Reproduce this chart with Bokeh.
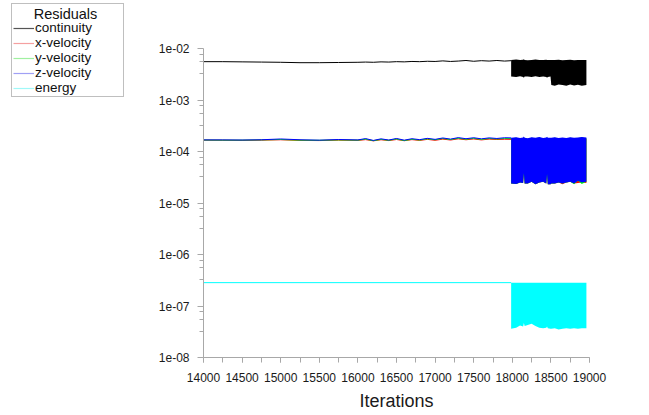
from bokeh.plotting import figure
from bokeh.layouts import row
from bokeh.models import (Range1d, FixedTicker, SingleIntervalTicker, CustomJSTickFormatter,
                          Legend, LegendItem, Label)
from bokeh.embed import file_html
from bokeh.resources import INLINE

# ---------------- data ----------------
steady_iter = [14000, 14250, 14500, 14750, 15000, 15250, 15500, 15750, 16000, 16100,
               16200, 16300, 16400, 16500, 16600, 16700, 16800, 16900, 17000, 17100,
               17200, 17300, 17400, 17500, 17600, 17700, 17800, 17900, 17985]
continuity = [5.55e-3, 5.55e-3, 5.5e-3, 5.45e-3, 5.4e-3, 5.3e-3, 5.3e-3, 5.35e-3, 5.4e-3, 5.45e-3,
              5.4e-3, 5.5e-3, 5.45e-3, 5.55e-3, 5.5e-3, 5.6e-3, 5.55e-3, 5.65e-3, 5.6e-3, 5.75e-3,
              5.6e-3, 5.7e-3, 5.85e-3, 5.65e-3, 5.8e-3, 5.7e-3, 5.85e-3, 5.7e-3, 5.8e-3]
x_velocity = [1.66e-4, 1.65e-4, 1.64e-4, 1.66e-4, 1.69e-4, 1.64e-4, 1.63e-4, 1.66e-4, 1.64e-4, 1.7e-4,
              1.61e-4, 1.69e-4, 1.63e-4, 1.71e-4, 1.62e-4, 1.7e-4, 1.64e-4, 1.72e-4, 1.65e-4, 1.74e-4,
              1.67e-4, 1.76e-4, 1.69e-4, 1.75e-4, 1.68e-4, 1.74e-4, 1.71e-4, 1.73e-4, 1.72e-4]
y_velocity = [1.67e-4, 1.66e-4, 1.66e-4, 1.68e-4, 1.71e-4, 1.66e-4, 1.65e-4, 1.68e-4, 1.66e-4, 1.74e-4,
              1.62e-4, 1.72e-4, 1.65e-4, 1.75e-4, 1.63e-4, 1.73e-4, 1.67e-4, 1.76e-4, 1.69e-4, 1.79e-4,
              1.71e-4, 1.81e-4, 1.73e-4, 1.8e-4, 1.72e-4, 1.79e-4, 1.75e-4, 1.79e-4, 1.78e-4]
z_velocity = [1.68e-4, 1.68e-4, 1.67e-4, 1.69e-4, 1.75e-4, 1.69e-4, 1.66e-4, 1.71e-4, 1.68e-4, 1.78e-4,
              1.64e-4, 1.76e-4, 1.67e-4, 1.79e-4, 1.66e-4, 1.77e-4, 1.7e-4, 1.8e-4, 1.72e-4, 1.83e-4,
              1.74e-4, 1.86e-4, 1.77e-4, 1.85e-4, 1.76e-4, 1.84e-4, 1.79e-4, 1.85e-4, 1.84e-4]
energy_iter = [14000, 17985]
energy = [2.84e-7, 2.84e-7]

# oscillating part: upper / lower envelopes of each residual
band_iter = [17985, 18050, 18100, 18140, 18150, 18160, 18200, 18250, 18300, 18350, 18400, 18440,
             18450, 18460, 18495, 18505, 18550, 18600, 18650, 18700, 18750, 18800, 18850, 18900, 18960]
cont_hi = [6.0e-3, 6.1e-3, 5.95e-3, 6.05e-3, 6.15e-3, 6.0e-3, 5.9e-3, 6.0e-3, 6.1e-3, 5.95e-3, 6.0e-3, 6.05e-3,
           5.95e-3, 6.0e-3, 6.0e-3, 6.0e-3, 5.95e-3, 6.05e-3, 5.9e-3, 6.0e-3, 6.05e-3, 5.9e-3, 6.0e-3, 5.95e-3, 6.0e-3]
cont_lo = [2.85e-3, 2.8e-3, 2.9e-3, 2.8e-3, 2.7e-3, 2.85e-3, 2.85e-3, 2.8e-3, 2.9e-3, 2.8e-3, 2.85e-3, 2.8e-3,
           2.7e-3, 2.8e-3, 2.85e-3, 1.95e-3, 1.9e-3, 2.0e-3, 1.95e-3, 1.9e-3, 2.0e-3, 1.92e-3, 1.97e-3, 1.9e-3, 1.95e-3]
xvel_hi = [1.76e-4, 1.8e-4, 1.74e-4, 1.77e-4, 1.85e-4, 1.76e-4, 1.72e-4, 1.8e-4, 1.76e-4, 1.82e-4, 1.74e-4, 1.77e-4,
           1.83e-4, 1.76e-4, 1.76e-4, 1.76e-4, 1.8e-4, 1.74e-4, 1.78e-4, 1.74e-4, 1.8e-4, 1.76e-4, 1.78e-4, 1.82e-4, 1.77e-4]
xvel_lo = [2.4e-5, 2.35e-5, 2.5e-5, 2.45e-5, 3.8e-5, 2.4e-5, 2.4e-5, 2.6e-5, 2.3e-5, 2.5e-5, 2.6e-5, 2.4e-5,
           3.6e-5, 2.3e-5, 2.3e-5, 2.4e-5, 2.4e-5, 2.5e-5, 2.3e-5, 2.5e-5, 2.6e-5, 2.4e-5, 2.45e-5, 2.5e-5, 2.45e-5]
yvel_hi = [1.8e-4, 1.84e-4, 1.78e-4, 1.81e-4, 1.9e-4, 1.8e-4, 1.76e-4, 1.84e-4, 1.8e-4, 1.86e-4, 1.78e-4, 1.81e-4,
           1.88e-4, 1.8e-4, 1.8e-4, 1.8e-4, 1.84e-4, 1.78e-4, 1.82e-4, 1.78e-4, 1.84e-4, 1.8e-4, 1.82e-4, 1.86e-4, 1.81e-4]
yvel_lo = [2.4e-5, 2.35e-5, 2.5e-5, 2.45e-5, 3.8e-5, 2.4e-5, 2.4e-5, 2.6e-5, 2.3e-5, 2.5e-5, 2.6e-5, 2.4e-5,
           3.6e-5, 2.3e-5, 2.3e-5, 2.4e-5, 2.4e-5, 2.5e-5, 2.4e-5, 2.5e-5, 2.6e-5, 2.3e-5, 2.7e-5, 2.35e-5, 2.6e-5]
zvel_hi = [1.85e-4, 1.9e-4, 1.82e-4, 1.86e-4, 1.95e-4, 1.85e-4, 1.8e-4, 1.9e-4, 1.85e-4, 1.92e-4, 1.82e-4, 1.86e-4,
           1.93e-4, 1.85e-4, 1.85e-4, 1.85e-4, 1.9e-4, 1.83e-4, 1.88e-4, 1.82e-4, 1.9e-4, 1.85e-4, 1.88e-4, 1.92e-4, 1.86e-4]
zvel_lo = [2.4e-5, 2.35e-5, 2.5e-5, 2.45e-5, 3.8e-5, 2.4e-5, 2.4e-5, 2.6e-5, 2.3e-5, 2.5e-5, 2.6e-5, 2.4e-5,
           3.6e-5, 2.3e-5, 2.3e-5, 2.4e-5, 2.4e-5, 2.5e-5, 2.4e-5, 2.5e-5, 2.6e-5, 2.4e-5, 2.7e-5, 2.5e-5, 2.6e-5]
energy_hi = [2.84e-7, 2.84e-7, 2.84e-7, 2.84e-7, 2.84e-7, 2.84e-7, 2.84e-7, 2.84e-7, 2.84e-7, 2.84e-7,
             2.84e-7, 2.84e-7, 2.84e-7, 2.84e-7, 2.84e-7, 2.84e-7, 2.84e-7, 2.84e-7, 2.84e-7, 2.84e-7,
             2.84e-7, 2.84e-7, 2.84e-7, 2.84e-7, 2.84e-7]
energy_lo = [3.6e-8, 3.8e-8, 4.2e-8, 4.0e-8, 4.7e-8, 4.1e-8, 4.3e-8, 4.5e-8, 4.1e-8, 3.8e-8, 3.7e-8, 3.8e-8,
             4.0e-8, 3.7e-8, 3.6e-8, 3.6e-8, 3.7e-8, 3.5e-8, 3.6e-8, 3.7e-8, 3.6e-8, 3.7e-8, 3.6e-8, 3.7e-8, 3.7e-8]

legend_title = "Residuals"
series_names = ["continuity", "x-velocity", "y-velocity", "z-velocity", "energy"]
y_ticks = [1e-8, 1e-7, 1e-6, 1e-5, 1e-4, 1e-3, 1e-2]

# ---------------- styles ----------------
FONT = "Liberation Sans"
colors = ["#000000", "#ff0000", "#00ff00", "#0000ff", "#00ffff"]
legend_colors = ["#555555", "#f5a0a0", "#a0f0a0", "#a0a0f5", "#a0f8f8"]
AXIS_GREY = "#a8a8a8"
TOTAL_W, TOTAL_H = 649, 415
LEG_W = 130

# ---------------- main plot ----------------
BL, BR, BT = 73, 60, 48
FRAME_W, FRAME_H = 386, 309
BB = TOTAL_H - BT - FRAME_H

p = figure(width=TOTAL_W - LEG_W, height=TOTAL_H, y_axis_type="log",
           x_range=Range1d(14000, 19000), y_range=Range1d(1e-8, 1e-2),
           output_backend="svg", toolbar_location=None,
           min_border_left=BL, min_border_right=BR, min_border_top=BT, min_border_bottom=BB)
p.frame_align = False
p.outline_line_color = None
p.xgrid.visible = False
p.ygrid.visible = False
p.background_fill_color = "white"
p.border_fill_color = "white"

lines = [(continuity, cont_lo, cont_hi), (x_velocity, xvel_lo, xvel_hi),
         (y_velocity, yvel_lo, yvel_hi), (z_velocity, zvel_lo, zvel_hi)]
for (vals, lo, hi), c in zip(lines, colors[:4]):
    p.line(steady_iter, vals, line_color=c, line_width=1)
    p.varea(x=band_iter, y1=lo, y2=hi, fill_color=c)
p.line(energy_iter, energy, line_color=colors[4], line_width=1)
p.varea(x=band_iter, y1=energy_lo, y2=energy_hi, fill_color=colors[4])

xa = p.xaxis[0]
xa.ticker = SingleIntervalTicker(interval=500, num_minor_ticks=2)
xa.axis_label = "Iterations"
xa.axis_label_text_font = FONT
xa.axis_label_text_font_size = "18px"
xa.axis_label_text_font_style = "normal"
xa.axis_label_text_color = "#1a1a1a"
xa.axis_label_standoff = 6
xa.major_label_standoff = 10
xa.major_tick_out = 5
xa.major_tick_in = 0
xa.minor_tick_out = 5
xa.minor_tick_in = 0

ya = p.yaxis[0]
minor = []
for d in y_ticks[:-1]:
    minor += [d * 3.25, d * 5.5, d * 7.75]
ya.ticker = FixedTicker(ticks=y_ticks, minor_ticks=minor)
ya.formatter = CustomJSTickFormatter(code="""
const e = Math.round(Math.log10(tick));
const a = Math.abs(e);
return '1e' + (e < 0 ? '-' : '+') + (a < 10 ? '0' : '') + a;
""")
ya.major_label_standoff = 8
ya.major_tick_out = 6
ya.major_tick_in = 0
ya.minor_tick_out = 4
ya.minor_tick_in = 0

for ax in (xa, ya):
    ax.axis_line_color = AXIS_GREY
    ax.major_tick_line_color = AXIS_GREY
    ax.minor_tick_line_color = AXIS_GREY
    ax.major_label_text_font = FONT
    ax.major_label_text_font_size = "12px"
    ax.major_label_text_color = "#1a1a1a"

# ---------------- legend panel (left strip, page coordinates) ----------------
LEG_LEFT = 8
lp = figure(width=LEG_W, height=TOTAL_H, output_backend="svg", toolbar_location=None,
            x_range=Range1d(LEG_LEFT, LEG_W), y_range=Range1d(TOTAL_H, 0),
            x_axis_location=None, y_axis_location=None,
            min_border_left=LEG_LEFT, min_border_right=0, min_border_top=0, min_border_bottom=0)
lp.frame_align = False
lp.outline_line_color = None
lp.xgrid.visible = False
lp.ygrid.visible = False
lp.background_fill_color = "white"
lp.border_fill_color = "white"

items = []
for name, c in zip(series_names, legend_colors):
    # proxy line, kept outside the visible range; only its legend swatch shows
    r = lp.line(x=[0, 1], y=[-50, -50], line_color=c, line_width=1.2)
    items.append(LegendItem(label=name, renderers=[r]))

legend = Legend(items=items, location="top_left", margin=3,
                title=" ", title_text_font_size="13px", title_standoff=0,
                padding=1, spacing=0,
                glyph_width=21, glyph_height=12, label_height=12, label_width=87,
                label_standoff=1,
                label_text_font=FONT, label_text_font_size="13.5px", label_text_color="#111111",
                border_line_color="#808080", border_line_width=1,
                background_fill_alpha=0.0)
lp.add_layout(legend)
lp.add_layout(Label(x=65, y=13, text=legend_title, text_align="center", text_baseline="middle",
                    text_font=FONT, text_font_size="14.5px", text_color="#111111"))

layout = row(lp, p, spacing=0)
open("out.html", "w").write(file_html(layout, INLINE))
